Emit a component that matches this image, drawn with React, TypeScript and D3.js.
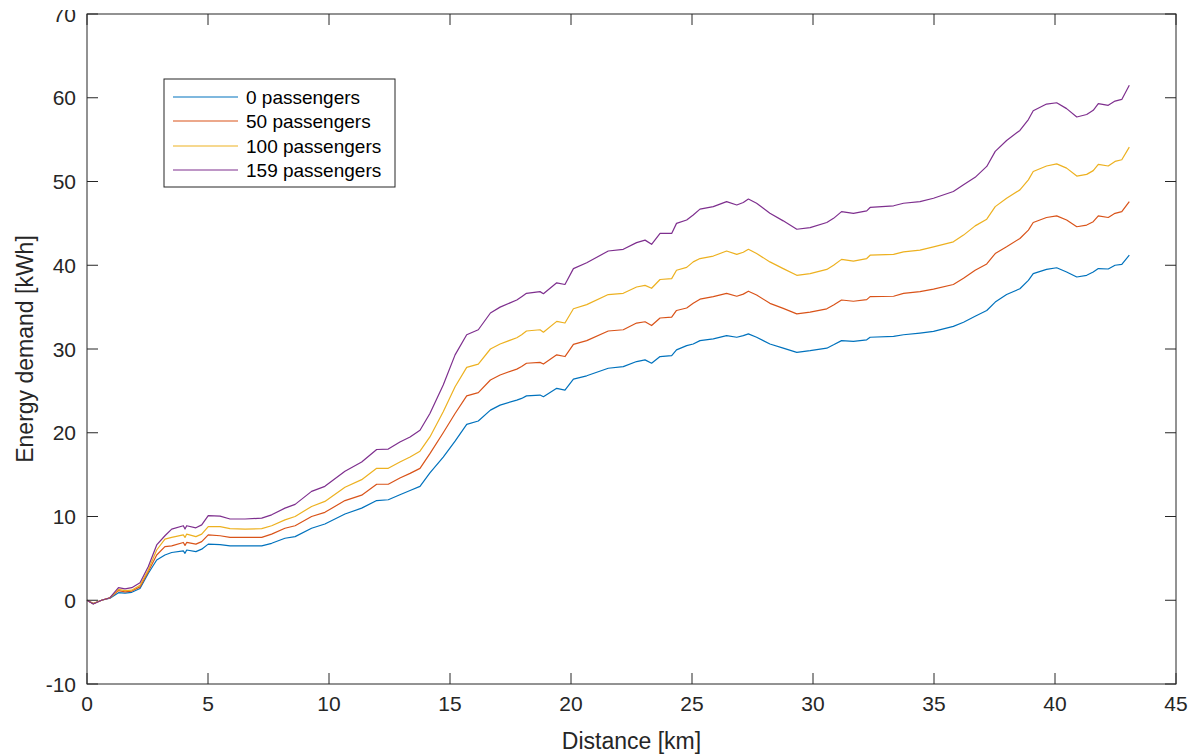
import React from "react";
import * as d3 from "d3";

const distance = [0, 0.26, 0.6, 0.95, 1.3, 1.57, 1.85, 2.19, 2.53, 2.88, 3.22, 3.5, 3.98, 4.05, 4.12, 4.5, 4.74, 5.01, 5.5, 5.91, 6.53, 7.22, 7.63, 8.18, 8.6, 9.28, 9.83, 10.66, 11.35, 11.97, 12.45, 12.93, 13.35, 13.76, 14.17, 14.72, 15.21, 15.69, 16.17, 16.67, 17.07, 17.76, 17.96, 18.16, 18.72, 18.86, 19.41, 19.75, 20.1, 20.65, 21.54, 22.16, 22.71, 23.06, 23.33, 23.68, 24.16, 24.36, 24.78, 25.05, 25.33, 25.88, 26.43, 26.85, 27.12, 27.33, 27.67, 28.22, 28.77, 29.33, 29.88, 30.57, 30.85, 31.18, 31.67, 32.22, 32.36, 33.33, 33.74, 34.42, 34.98, 35.8, 36.22, 36.7, 37.18, 37.53, 38.0, 38.55, 38.9, 39.1, 39.65, 40.07, 40.48, 40.9, 41.31, 41.58, 41.79, 42.2, 42.48, 42.76, 43.07];

const pass0 = [0, -0.4, 0.0, 0.25, 0.9, 0.85, 0.95, 1.4, 3.2, 4.8, 5.4, 5.7, 5.9, 5.6, 6.0, 5.8, 6.1, 6.7, 6.65, 6.5, 6.5, 6.5, 6.8, 7.4, 7.6, 8.6, 9.1, 10.3, 11.0, 11.9, 12.0, 12.6, 13.1, 13.6, 15.2, 17.1, 19.0, 21.0, 21.4, 22.7, 23.3, 23.9, 24.1, 24.4, 24.5, 24.3, 25.3, 25.1, 26.4, 26.8, 27.7, 27.9, 28.5, 28.7, 28.3, 29.1, 29.2, 29.9, 30.4, 30.6, 31.0, 31.2, 31.6, 31.4, 31.6, 31.8, 31.4, 30.6, 30.1, 29.6, 29.8, 30.1, 30.5, 31.0, 30.9, 31.1, 31.4, 31.5, 31.7, 31.9, 32.1, 32.7, 33.2, 33.9, 34.6, 35.6, 36.5, 37.2, 38.2, 39.0, 39.5, 39.7, 39.2, 38.6, 38.8, 39.2, 39.6, 39.55, 40.0, 40.1, 41.2];

const pass50 = [0, -0.4, 0.0, 0.28, 1.15, 1.0, 1.1, 1.6, 3.4, 5.4, 6.4, 6.5, 6.9, 6.55, 6.9, 6.7, 7.0, 7.8, 7.7, 7.5, 7.5, 7.5, 7.9, 8.6, 8.9, 10.0, 10.5, 11.9, 12.55, 13.85, 13.85, 14.6, 15.15, 15.75, 17.5, 20.0, 22.3, 24.4, 24.8, 26.3, 26.9, 27.6, 27.9, 28.3, 28.4, 28.2, 29.3, 29.1, 30.55, 31.0, 32.15, 32.3, 33.1, 33.25, 32.8, 33.7, 33.8, 34.6, 34.9, 35.45, 35.95, 36.25, 36.65, 36.3, 36.55, 36.9, 36.45, 35.45, 34.85, 34.2, 34.4, 34.8, 35.25, 35.85, 35.7, 35.9, 36.25, 36.3, 36.65, 36.85, 37.15, 37.7, 38.45, 39.4, 40.15, 41.4, 42.2, 43.2, 44.2, 45.1, 45.7, 45.9, 45.4, 44.6, 44.8, 45.2, 45.9, 45.7, 46.2, 46.4, 47.6];

const pass100 = [0, -0.4, 0.0, 0.3, 1.3, 1.15, 1.2, 1.8, 3.6, 6.0, 7.3, 7.5, 7.8, 7.5, 7.9, 7.6, 7.9, 8.8, 8.8, 8.55, 8.5, 8.55, 8.9, 9.6, 10.0, 11.2, 11.8, 13.5, 14.4, 15.75, 15.75, 16.5, 17.1, 17.8, 19.5, 22.5, 25.5, 27.8, 28.2, 30.0, 30.6, 31.35, 31.7, 32.15, 32.3, 32.0, 33.3, 33.1, 34.8, 35.3, 36.5, 36.65, 37.4, 37.6, 37.25, 38.3, 38.4, 39.4, 39.75, 40.4, 40.8, 41.1, 41.7, 41.3, 41.55, 41.9, 41.4, 40.4, 39.6, 38.8, 39.0, 39.5, 40.0, 40.7, 40.5, 40.8, 41.2, 41.3, 41.6, 41.8, 42.2, 42.8, 43.6, 44.7, 45.5, 47.0, 48.0, 49.0, 50.2, 51.2, 51.85, 52.1, 51.6, 50.65, 50.85, 51.3, 52.05, 51.85, 52.4, 52.6, 54.1];

const pass159 = [0, -0.45, 0.0, 0.3, 1.5, 1.35, 1.5, 2.1, 4.0, 6.6, 7.7, 8.5, 8.9, 8.5, 8.9, 8.65, 9.0, 10.1, 10.05, 9.7, 9.7, 9.8, 10.2, 11.0, 11.45, 13.0, 13.6, 15.4, 16.5, 18.0, 18.05, 18.9, 19.5, 20.3, 22.3, 25.7, 29.3, 31.7, 32.3, 34.3, 35.0, 35.85, 36.25, 36.65, 36.85, 36.6, 37.9, 37.7, 39.6, 40.3, 41.7, 41.9, 42.7, 43.0, 42.5, 43.8, 43.8, 45.0, 45.4, 46.0, 46.7, 47.0, 47.6, 47.2, 47.5, 47.9, 47.4, 46.2, 45.3, 44.3, 44.5, 45.1, 45.6, 46.4, 46.2, 46.5, 46.9, 47.1, 47.4, 47.6, 48.0, 48.8, 49.6, 50.5, 51.8, 53.6, 54.9, 56.1, 57.4, 58.45, 59.25, 59.4, 58.7, 57.7, 58.0, 58.5, 59.3, 59.1, 59.6, 59.8, 61.5];

const seriesNames = ["0 passengers", "50 passengers", "100 passengers", "159 passengers"];
const seriesValues = [pass0, pass50, pass100, pass159];
const seriesColors = ["#0072BD", "#D95319", "#EDB120", "#7E2F8E"];

const xTicks = [0, 5, 10, 15, 20, 25, 30, 35, 40, 45];
const yTicks = [-10, 0, 10, 20, 30, 40, 50, 60, 70];

const xLabel = "Distance [km]";
const yLabel = "Energy demand [kWh]";

const W = 1195;
const H = 756;
const L = 87, R = 1176, T = 14, B = 684;
const TXT = "#262626";
const FONT = "'Liberation Sans', Arial, Helvetica, sans-serif";

export default function App() {
  const x = d3.scaleLinear().domain([0, 45]).range([L, R]);
  const y = d3.scaleLinear().domain([-10, 70]).range([B, T]);
  const line = d3
    .line<number>()
    .x((_, i) => x(distance[i]))
    .y((d) => y(d));
  const tickLen = 11;

  const legX = 164, legY = 79, legW = 231, legH = 108;
  const rowY = [97, 121, 146, 170];

  return (
    <svg
      width={W}
      height={H}
      style={{ position: "absolute", left: 0, top: 0, background: "#fff" }}
      fontFamily={FONT}
    >
      <defs>
        <clipPath id="pageClip">
          <rect x={0} y={10} width={W} height={H - 10} />
        </clipPath>
      </defs>
      <rect x={0} y={0} width={W} height={H} fill="#fff" />
      {/* series */}
      <g fill="none" strokeWidth={1.2} strokeLinejoin="round">
        {seriesValues.map((vals, k) => (
          <path key={k} d={line(vals) || ""} stroke={seriesColors[k]} />
        ))}
      </g>
      {/* axes box */}
      <rect x={L} y={T} width={R - L} height={B - T} fill="none" stroke={TXT} strokeWidth={1} />
      {/* x ticks */}
      {xTicks.map((t) => (
        <g key={"xt" + t}>
          <line x1={x(t)} x2={x(t)} y1={B} y2={B - tickLen} stroke={TXT} />
          <line x1={x(t)} x2={x(t)} y1={T} y2={T + tickLen} stroke={TXT} />
          <text x={x(t)} y={711} textAnchor="middle" fontSize={21} fill={TXT}>
            {t}
          </text>
        </g>
      ))}
      {/* y ticks */}
      <g clipPath="url(#pageClip)">
        {yTicks.map((t) => (
          <text key={"yl" + t} x={76} y={y(t) + 7.5} textAnchor="end" fontSize={21} fill={TXT}>
            {t}
          </text>
        ))}
      </g>
      {yTicks.map((t) => (
        <g key={"yt" + t}>
          <line x1={L} x2={L + tickLen} y1={y(t)} y2={y(t)} stroke={TXT} />
          <line x1={R} x2={R - tickLen} y1={y(t)} y2={y(t)} stroke={TXT} />
        </g>
      ))}
      {/* axis labels */}
      <text x={(L + R) / 2} y={749} textAnchor="middle" fontSize={23} fill={TXT}>
        {xLabel}
      </text>
      <text
        transform={`translate(33,${(T + B) / 2}) rotate(-90)`}
        textAnchor="middle"
        fontSize={23}
        fill={TXT}
      >
        {yLabel}
      </text>
      {/* legend */}
      <rect x={legX} y={legY} width={legW} height={legH} fill="#fff" stroke={TXT} strokeWidth={1} />
      {seriesNames.map((name, k) => (
        <g key={"lg" + k}>
          <line x1={173} x2={238} y1={rowY[k]} y2={rowY[k]} stroke={seriesColors[k]} strokeWidth={1.2} />
          <text x={246} y={rowY[k] + 7} fontSize={19} fill="#000">
            {name}
          </text>
        </g>
      ))}
    </svg>
  );
}
